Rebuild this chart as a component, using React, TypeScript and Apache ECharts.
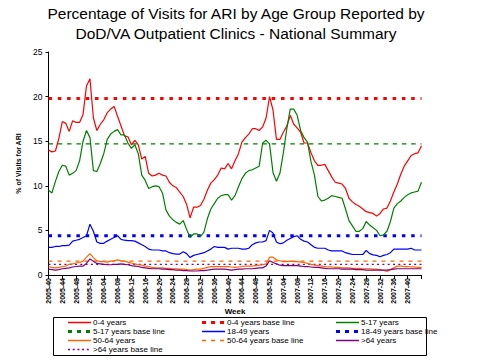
import React, { useEffect, useRef } from "react";
import * as echarts from "echarts";

// Week categories 2005-40 .. 2007-44
const weekLabels: string[] = [];
for (let w = 40; w <= 52; w++) weekLabels.push(`2005-${String(w).padStart(2, "0")}`);
for (let w = 1; w <= 52; w++) weekLabels.push(`2006-${String(w).padStart(2, "0")}`);
for (let w = 1; w <= 44; w++) weekLabels.push(`2007-${String(w).padStart(2, "0")}`);

const age0_4 = [
  14.0, 13.8, 13.9, 15.3, 17.2, 17.0, 16.1, 17.3, 17.1, 17.1,
  18.0, 21.2, 22.0, 17.6, 16.2, 16.9, 17.4, 18.2, 18.6, 18.9,
  17.8, 16.7, 15.6, 15.5, 14.6, 15.1, 14.6, 13.0, 13.3, 11.4,
  11.1, 11.2, 11.4, 11.2, 11.1, 10.4, 10.0, 9.8, 9.3, 8.8,
  7.9, 6.4, 7.6, 7.6, 7.8, 8.5, 9.5, 10.3, 10.7, 11.2,
  12.0, 11.9, 12.5, 11.9, 12.8, 13.6, 14.9, 15.4, 15.8, 16.4,
  16.4, 16.2, 16.6, 17.6, 20.0, 18.5, 15.2, 15.2, 16.0, 16.7,
  17.9, 16.9, 16.5, 16.0, 14.8, 14.8, 13.7, 12.8, 12.3, 12.3,
  12.4, 11.7, 11.0, 10.4, 10.3, 10.2, 9.7, 8.6, 8.2, 7.9,
  7.7, 7.4, 7.1, 7.0, 6.9, 6.6, 6.9, 7.4, 7.5, 8.3,
  9.3, 10.2, 11.3, 12.2, 12.8, 13.4, 13.6, 13.7, 14.5,
];
const age5_17 = [
  9.5, 9.2, 10.5, 11.6, 12.3, 12.2, 11.2, 11.4, 11.7, 12.8,
  15.0, 16.2, 15.4, 11.7, 11.6, 12.5, 13.6, 15.2, 15.8, 16.1,
  16.3, 15.7, 15.7, 14.8, 14.2, 14.6, 13.6, 11.2, 10.6, 9.7,
  9.9, 10.0, 9.9, 9.2, 7.3, 6.6, 6.2, 5.9, 5.7, 6.1,
  5.1, 4.2, 4.6, 4.6, 4.3, 4.8, 6.3, 7.4, 8.0, 8.6,
  8.9, 9.0, 9.0, 8.4, 8.9, 9.9, 10.8, 11.4, 11.7, 11.8,
  12.0, 12.2, 14.8, 15.1, 14.7, 11.5, 10.5, 11.4, 13.7, 16.4,
  18.6, 18.6, 17.9, 16.2, 15.4, 14.9, 12.7, 11.2, 8.8, 8.3,
  8.4, 8.6, 8.9, 8.8, 8.7, 8.6, 7.4, 6.1, 5.5, 4.9,
  4.9, 5.2, 6.0, 5.6, 5.3, 5.0, 4.4, 4.5, 4.9, 6.0,
  7.5, 8.0, 8.3, 8.7, 9.0, 9.2, 9.3, 9.4, 10.4,
];
const age18_49 = [
  3.1, 3.1, 3.2, 3.2, 3.3, 3.3, 3.35, 3.8, 3.9, 4.0,
  4.2, 4.4, 5.7, 4.9, 3.7, 3.55, 3.55, 3.8, 4.0, 4.2,
  4.4, 4.0, 3.9, 3.85, 3.85, 3.8, 3.6, 3.4, 3.2, 2.9,
  2.8, 2.8, 2.8, 2.7, 2.7, 2.5, 2.4, 2.35, 2.35, 2.6,
  2.4, 1.95, 2.2, 2.3, 2.4, 2.5, 2.7, 2.9, 3.2, 3.1,
  3.1, 3.1, 2.9, 3.0, 3.0, 3.0, 2.9, 2.9, 3.0, 3.4,
  3.6, 3.7, 3.7, 3.85, 5.0, 4.7, 3.7, 3.5, 3.6, 3.9,
  4.1, 4.3, 4.4, 4.0, 3.8, 3.7, 3.4, 3.1, 3.0, 3.0,
  3.0, 2.8, 2.7, 2.7, 2.7, 2.7, 2.5, 2.4, 2.3, 2.3,
  2.3, 2.3, 2.75, 2.4, 2.25, 2.2, 2.05, 2.2, 2.3, 2.5,
  2.9, 2.9, 2.9, 2.9, 2.9, 3.0, 2.8, 2.8, 2.8,
];
const age50_64 = [
  0.95, 0.85, 0.8, 0.85, 0.95, 1.0, 1.2, 1.25, 1.35, 1.4,
  1.55, 2.0, 2.4, 1.95, 1.6, 1.5, 1.5, 1.45, 1.55, 1.6,
  1.7, 1.6, 1.55, 1.45, 1.35, 1.25, 1.15, 1.1, 1.0, 0.95,
  0.85, 0.8, 0.8, 0.8, 0.75, 0.75, 0.7, 0.7, 0.65, 0.65,
  0.6, 0.55, 0.6, 0.65, 0.65, 0.75, 0.85, 0.95, 0.95, 0.95,
  0.95, 0.95, 0.95, 0.9, 0.85, 0.9, 0.95, 1.0, 1.0, 1.0,
  1.05, 1.1, 1.15, 1.25, 2.0, 2.0, 1.7, 1.6, 1.5, 1.5,
  1.55, 1.5, 1.5, 1.45, 1.4, 1.3, 1.2, 1.1, 1.05, 1.0,
  0.95, 0.9, 0.9, 0.85, 0.85, 0.8, 0.8, 0.8, 0.75, 0.75,
  0.75, 0.7, 0.7, 0.7, 0.65, 0.65, 0.6, 0.5, 0.4, 0.6,
  0.8, 1.0, 1.0, 0.95, 0.95, 0.9, 0.9, 0.85, 0.85,
];
const age65plus = [
  0.65, 0.6, 0.55, 0.6, 0.7, 0.75, 0.8, 0.9, 0.95, 1.0,
  1.0, 1.3, 1.8, 1.55, 1.3, 1.25, 1.2, 1.15, 1.15, 1.2,
  1.2, 1.25, 1.2, 1.15, 1.05, 1.0, 0.95, 0.85, 0.8, 0.75,
  0.7, 0.7, 0.7, 0.65, 0.65, 0.6, 0.6, 0.55, 0.55, 0.5,
  0.5, 0.45, 0.45, 0.45, 0.5, 0.5, 0.55, 0.6, 0.65, 0.65,
  0.65, 0.65, 0.6, 0.55, 0.6, 0.65, 0.65, 0.7, 0.7, 0.7,
  0.75, 0.8, 0.8, 1.0, 1.6, 1.4, 1.25, 1.1, 1.05, 1.05,
  1.05, 1.05, 1.05, 1.0, 0.95, 0.95, 0.9, 0.85, 0.85, 0.8,
  0.75, 0.7, 0.7, 0.7, 0.7, 0.65, 0.65, 0.65, 0.65, 0.6,
  0.6, 0.6, 0.55, 0.55, 0.55, 0.55, 0.55, 0.55, 0.55, 0.6,
  0.65, 0.7, 0.7, 0.7, 0.7, 0.7, 0.7, 0.7, 0.7,
];

// Baselines
const base0_4 = 19.8;
const base5_17 = 14.7;
const base18_49 = 4.4;
const base50_64 = 1.55;
const base65plus = 1.2;

const yTicks = { min: 0, max: 25, interval: 5 };
const xAxisTitle = "Week";

// Legend layout: reading order, 3 columns
const legendNames = [
  "0-4 years", "0-4 years base line", "5-17 years",
  "5-17 years base line", "18-49 years", "18-49 years base line",
  "50-64 years", "50-64 years base line", ">64 years",
  ">64 years base line",
];

const RED = "#FF0000";
const GREEN = "#008000";
const BLUE = "#0000FF";
const ORANGE = "#FF6600";
const PURPLE = "#800080";

const FONT = "'Liberation Sans', Arial, sans-serif";

type Sty = { color: string; width: number; dash?: number[]; legendWidth?: number; legendDash?: number[] };

const styles: Record<string, Sty> = {
  "0-4 years": { color: RED, width: 1.2 },
  "0-4 years base line": { color: RED, width: 3, dash: [3.5, 5.8], legendWidth: 3, legendDash: [4, 5] },
  "5-17 years": { color: GREEN, width: 1.2 },
  "5-17 years base line": { color: GREEN, width: 1.3, dash: [4.5, 4.8], legendWidth: 3, legendDash: [4, 5] },
  "18-49 years": { color: BLUE, width: 1.2 },
  "18-49 years base line": { color: BLUE, width: 3, dash: [3.5, 5.8], legendWidth: 3, legendDash: [4, 5] },
  "50-64 years": { color: ORANGE, width: 1.2 },
  "50-64 years base line": { color: ORANGE, width: 1.3, dash: [4, 5], legendWidth: 1.5, legendDash: [4, 5] },
  ">64 years": { color: PURPLE, width: 1.2 },
  ">64 years base line": { color: PURPLE, width: 1.3, dash: [2, 3.3], legendWidth: 1.5, legendDash: [2, 2.7] },
};

export default function App() {
  const ref = useRef<HTMLDivElement>(null);

  useEffect(() => {
    document.body.style.margin = "0";
    if (!ref.current) return;
    const chart = echarts.init(ref.current, undefined, { renderer: "svg" });

    const solid = (name: string, data: number[]) => ({
      name,
      type: "line",
      data,
      symbol: "none",
      showSymbol: false,
      lineStyle: { color: styles[name].color, width: styles[name].width },
      itemStyle: { color: styles[name].color },
      z: 3,
    });
    const base = (name: string, value: number) => ({
      name,
      type: "line",
      data: weekLabels.map(() => value),
      symbol: "none",
      showSymbol: false,
      lineStyle: { color: styles[name].color, width: styles[name].width, type: styles[name].dash },
      itemStyle: { color: styles[name].color },
      z: 2,
    });

    // Legend drawn as graphics inside a bordered box
    const colIconX = [68, 202, 336];
    const rowY = [322.5, 331.5, 340.5, 349.5];
    const legendGraphics: any[] = [
      {
        type: "rect",
        shape: { x: 53.5, y: 317.5, width: 373, height: 38 },
        style: { fill: "none", stroke: "#000", lineWidth: 1 },
        silent: true,
      },
      {
        type: "text",
        x: 235,
        y: 311,
        style: {
          text: xAxisTitle,
          font: `bold 8px ${FONT}`,
          fill: "#000",
          align: "center",
          verticalAlign: "middle",
        },
        silent: true,
      },
    ];
    legendNames.forEach((name, idx) => {
      const col = idx % 3;
      const row = Math.floor(idx / 3);
      const s = styles[name];
      const x0 = colIconX[col];
      const y = rowY[row];
      legendGraphics.push({
        type: "line",
        shape: { x1: x0, y1: y, x2: x0 + 23, y2: y },
        style: {
          stroke: s.color,
          lineWidth: s.legendWidth ?? 1.5,
          lineDash: s.legendDash ?? null,
        },
        silent: true,
      });
      legendGraphics.push({
        type: "text",
        x: x0 + 25,
        y,
        style: {
          text: name,
          font: `8px ${FONT}`,
          fill: "#000",
          verticalAlign: "middle",
          align: "left",
        },
        silent: true,
      });
    });

    chart.setOption({
      animation: false,
      title: {
        text: "Percentage of Visits for ARI by Age Group Reported by\nDoD/VA Outpatient Clinics - National Summary",
        left: 236,
        textAlign: "center",
        top: 3,
        padding: 0,
        textStyle: { fontSize: 15.5, fontWeight: "normal", fontFamily: FONT, color: "#000", lineHeight: 20 },
      },
      grid: { left: 48.5, right: 57.5, top: 52, bottom: 85, containLabel: false },
      graphic: legendGraphics,
      xAxis: {
        type: "category",
        data: weekLabels,
        boundaryGap: false,
        axisLine: { lineStyle: { color: "#000", width: 1 } },
        axisTick: { show: true, length: 4, interval: (i: number) => i % 4 === 0, lineStyle: { color: "#000" } },
        axisLabel: {
          interval: (i: number) => i % 4 === 0 && i < 108,
          rotate: 90,
          margin: 3,
          fontSize: 7,
          fontWeight: "bold",
          fontFamily: FONT,
          color: "#000",
        },
        splitLine: { show: false },
      },
      yAxis: {
        type: "value",
        min: yTicks.min,
        max: yTicks.max,
        interval: yTicks.interval,
        name: "% of Visits for ARI",
        nameLocation: "middle",
        nameGap: 26,
        nameTextStyle: { fontSize: 7, fontWeight: "bold", fontFamily: FONT, color: "#000" },
        axisLine: { show: true, lineStyle: { color: "#000", width: 1 } },
        axisTick: { show: true, length: 3, lineStyle: { color: "#000" } },
        axisLabel: { fontSize: 8.5, fontFamily: FONT, color: "#000", margin: 6 },
        splitLine: { show: false },
      },
      series: [
        base("0-4 years base line", base0_4),
        base("5-17 years base line", base5_17),
        base("18-49 years base line", base18_49),
        base("50-64 years base line", base50_64),
        base(">64 years base line", base65plus),
        solid("0-4 years", age0_4),
        solid("5-17 years", age5_17),
        solid("18-49 years", age18_49),
        solid("50-64 years", age50_64),
        solid(">64 years", age65plus),
      ],
    });

    return () => chart.dispose();
  }, []);

  return <div ref={ref} style={{ width: 479, height: 360 }} />;
}
